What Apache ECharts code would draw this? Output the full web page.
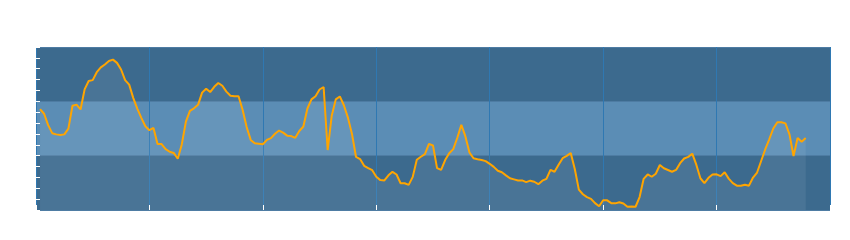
<!DOCTYPE html>
<html>
<head>
<meta charset="utf-8">
<script src="https://cdn.jsdelivr.net/npm/echarts@6/dist/echarts.min.js"></script>
<style>
html,body{margin:0;padding:0;background:#ffffff;}
#chart{width:850px;height:240px;}
</style>
</head>
<body>
<div id="chart"></div>
<script>
// x categories: 197 evenly spaced steps, split every 28
const categoryCount = 197;
const categories = [];
for (let i = 0; i < categoryCount; i++) categories.push(String(i));

// y axis bands
const yMin = 0, yMax = 150, yInterval = 50;

// series values (first step has no value)
const values = ['-',
  92.8, 88.6, 78.1, 70.7, 69.6, 69.0, 69.6, 74.9, 95.9, 97.0,
  92.5, 111.0, 118.7, 119.5, 126.8, 131.2, 133.9, 137.1, 138.4, 135.4,
  129.3, 119.5, 115.4, 103.2, 93.3, 84.8, 77.1, 73.4, 75.5, 60.7,
  60.7, 56.0, 53.6, 52.5, 47.2, 60.6, 81.3, 91.3, 93.6, 96.8,
  108.0, 111.6, 108.5, 113.4, 116.9, 114.3, 108.9, 105.1, 104.6, 104.6,
  92.3, 76.3, 64.5, 61.4, 61.0, 60.5, 64.5, 66.2, 70.2, 73.1,
  71.2, 68.4, 68.0, 66.4, 72.7, 76.8, 93.4, 101.8, 104.7, 110.9,
  113.2, 55.2, 86.8, 101.8, 104.5, 96.4, 85.0, 70.0, 48.8, 46.9,
  40.7, 38.5, 36.6, 30.6, 27.5, 27.2, 31.9, 35.1, 32.7, 24.6,
  24.6, 23.1, 30.5, 46.2, 49.0, 51.4, 60.9, 59.4, 38.6, 36.9,
  46.0, 52.3, 56.0, 66.5, 78.3, 67.7, 52.9, 47.6, 46.7, 46.0,
  45.0, 42.5, 39.7, 36.1, 34.7, 31.9, 29.2, 28.2, 27.1, 27.2,
  25.7, 27.0, 26.0, 23.8, 27.0, 28.6, 37.0, 35.2, 41.6, 47.7,
  49.8, 52.5, 37.7, 18.7, 14.5, 11.8, 10.3, 6.3, 3.5, 9.0,
  8.9, 6.3, 6.1, 7.1, 6.0, 3.0, 3.2, 3.0, 11.9, 28.7,
  32.7, 30.6, 33.4, 41.4, 38.4, 36.8, 35.2, 36.9, 43.1, 47.4,
  48.9, 51.8, 41.7, 29.2, 24.8, 29.6, 32.7, 32.8, 31.2, 34.8,
  28.9, 24.8, 22.4, 22.4, 23.3, 22.4, 29.9, 34.5, 45.1, 55.7,
  65.1, 75.0, 80.7, 80.7, 79.7, 69.6, 49.7, 66.3, 62.9, 66.2
];

const chart = echarts.init(document.getElementById('chart'), null, {renderer: 'canvas'});
chart.setOption({
  animation: false,
  backgroundColor: '#ffffff',
  grid: {
    left: 36, right: 20, top: 47, bottom: 30,
    show: true, backgroundColor: '#3c6a8e', borderWidth: 0
  },
  xAxis: {
    type: 'category',
    data: categories,
    boundaryGap: false,
    axisLine: {show: false},
    axisTick: {show: true, inside: true, length: 5, interval: 27, lineStyle: {color: '#ffffff', width: 1}},
    axisLabel: {show: false},
    splitLine: {show: true, interval: 27, lineStyle: {color: '#2f78b2', width: 1}}
  },
  yAxis: {
    type: 'value',
    min: yMin, max: yMax, interval: yInterval,
    axisLine: {show: false},
    axisTick: {show: true, inside: true, length: 4, lineStyle: {color: '#ffffff', width: 1}},
    minorTick: {show: true, splitNumber: 5, length: 4, lineStyle: {color: '#ffffff', width: 1}},
    axisLabel: {show: false},
    splitLine: {show: true, lineStyle: {color: '#4e7ca3', width: 1}},
    splitArea: {show: true, areaStyle: {color: ['#3c6a8e', '#5b8db5']}}
  },
  series: [{
    type: 'line',
    data: values,
    symbol: 'none',
    lineStyle: {color: '#ffa500', width: 2},
    itemStyle: {color: '#ffa500'},
    areaStyle: {color: 'rgba(255,255,255,0.1)'}
  }]
});
</script>
</body>
</html>
